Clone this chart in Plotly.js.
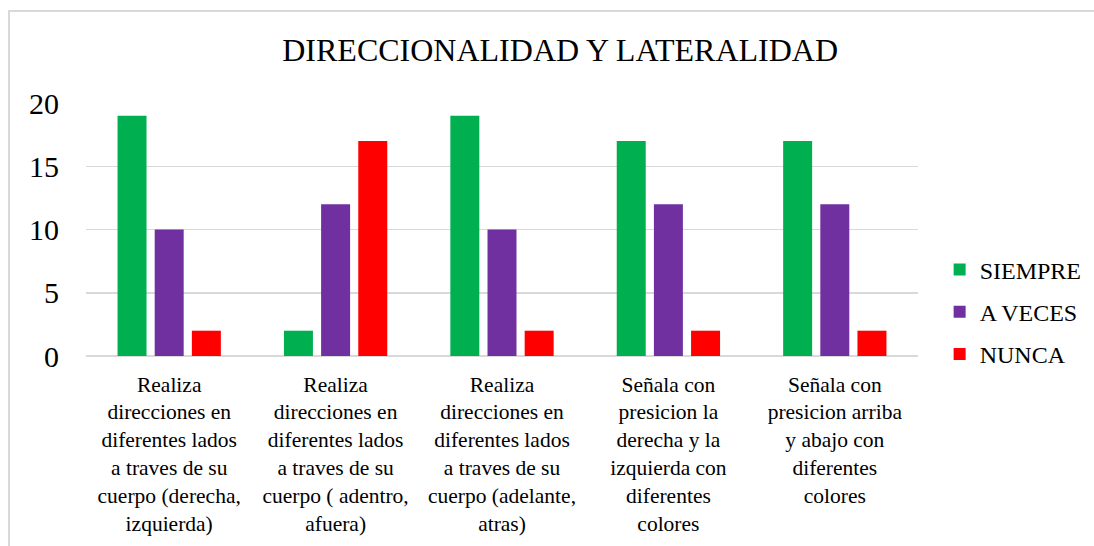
<!DOCTYPE html>
<html>
<head>
<meta charset="utf-8">
<script src="https://cdn.plot.ly/plotly-3.0.1.min.js"></script>
<style>
  html, body { margin: 0; padding: 0; background: #fff; }
  #wrap { position: relative; width: 1094px; height: 546px; overflow: hidden; }
  #chart { width: 1094px; height: 546px; }
  #frame { position: absolute; left: 8px; top: 10px; width: 1200px; height: 700px;
           border-left: 2px solid #d9d9d9; border-top: 2px solid #d9d9d9; pointer-events: none; }
</style>
</head>
<body>
<div id="wrap">
  <div id="chart"></div>
  <div id="frame"></div>
</div>
<script>
const categories = [
  "Realiza<br>direcciones en<br>diferentes lados<br>a traves de su<br>cuerpo (derecha,<br>izquierda)",
  "Realiza<br>direcciones en<br>diferentes lados<br>a traves de su<br>cuerpo ( adentro,<br>afuera)",
  "Realiza<br>direcciones en<br>diferentes lados<br>a traves de su<br>cuerpo (adelante,<br>atras)",
  "Señala con<br>presicion la<br>derecha y la<br>izquierda con<br>diferentes<br>colores",
  "Señala con<br>presicion arriba<br>y abajo con<br>diferentes<br>colores"
];
const siempre = [19, 2, 19, 17, 17];
const aVeces  = [10, 12, 10, 12, 12];
const nunca   = [2, 17, 2, 2, 2];
const seriesNames = ["SIEMPRE", "A VECES", "NUNCA"];
const yTicks = [0, 5, 10, 15, 20];

const colors = ["#00B050", "#7030A0", "#FF0000"];
const serif = "Liberation Serif";

const data = [siempre, aVeces, nunca].map((vals, i) => ({
  type: "bar",
  x: categories,
  y: vals,
  name: seriesNames[i],
  legendgroup: "g" + i,
  marker: { color: colors[i] },
  hoverinfo: "y"
}));

const layout = {
  width: 1094,
  height: 546,
  margin: { l: 86, r: 176, t: 103, b: 190, autoexpand: false },
  paper_bgcolor: "#ffffff",
  plot_bgcolor: "#ffffff",
  font: { family: serif, color: "#000000" },
  title: {
    text: "DIRECCIONALIDAD Y LATERALIDAD",
    font: { family: serif, size: 32, color: "#000000" },
    xref: "container", x: 0.512, xanchor: "center",
    yref: "container", y: 0.908, yanchor: "middle"
  },
  barmode: "group",
  bargap: 0.33,
  bargroupgap: 0.22,
  xaxis: {
    type: "category",
    tickfont: { family: serif, size: 21.5, color: "#000000" },
    showgrid: false,
    showline: false,
    ticks: "",
    tickangle: 0,
    ticklabelstandoff: 13,
    automargin: false
  },
  yaxis: {
    range: [0, 20],
    tickvals: yTicks,
    ticktext: yTicks.map(String),
    tickfont: { family: serif, size: 30, color: "#000000" },
    showgrid: true,
    gridcolor: "#d9d9d9",
    gridwidth: 1.5,
    zeroline: true,
    zerolinecolor: "#d9d9d9",
    zerolinewidth: 1.5,
    showline: false,
    ticks: "",
    ticklabelstandoff: 26,
    automargin: false
  },
  showlegend: true,
  legend: {
    x: 1.026, xanchor: "left",
    y: 0.174, yanchor: "middle",
    font: { family: serif, size: 24, color: "#000000" },
    traceorder: "grouped",
    tracegroupgap: 8,
    itemwidth: 30,
    bgcolor: "rgba(0,0,0,0)"
  }
};

Plotly.newPlot("chart", data, layout, { displayModeBar: false, staticPlot: true });
</script>
</body>
</html>
